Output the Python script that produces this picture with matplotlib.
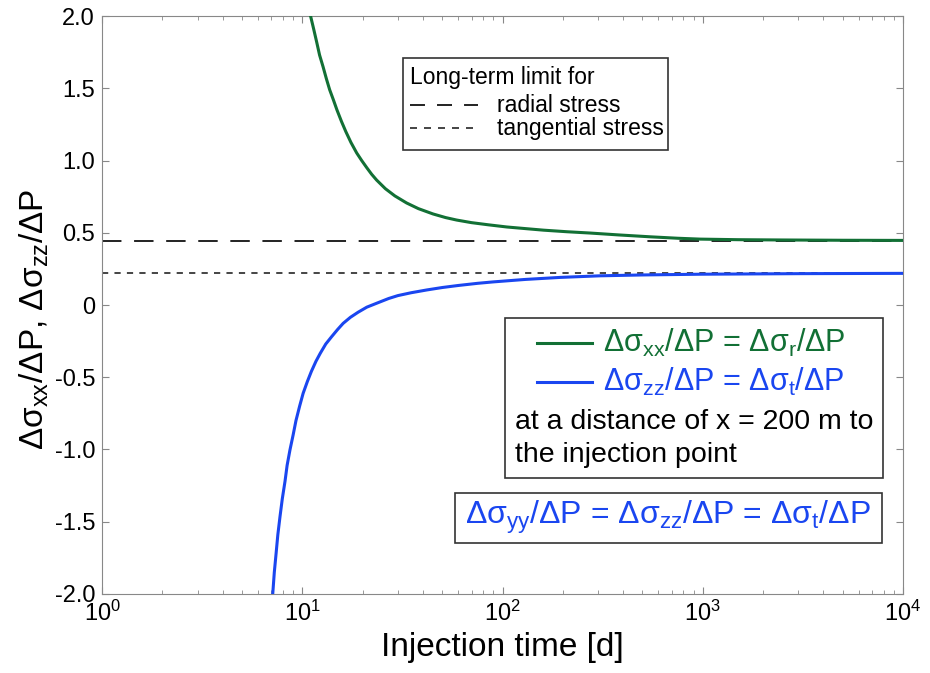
#!/usr/bin/env python

import matplotlib
matplotlib.use('Agg')

import matplotlib.pyplot as plt
from matplotlib.lines import Line2D
from matplotlib.patches import Rectangle

######   Data

# injection time [d] and normalised stress change at x = 200 m
tRadial = [11.0, 11.4, 11.8, 12.2, 12.7, 13.2, 13.7, 14.3, 14.9, 15.7, 16.5,
           17.5, 18.7, 19.8, 21.0, 22.2, 23.5, 26.0, 29.0, 33.2, 38.0, 45.0,
           52.0, 59.0, 70.0, 85.0, 105.0, 127.0, 160.0, 210.0, 274.0, 380.0,
           546.0, 750.0, 969.0, 1500.0, 2500.0, 5000.0, 10000.0]
sRadial = [2.0, 1.91, 1.82, 1.73, 1.649, 1.565, 1.49, 1.42, 1.35, 1.27, 1.2,
           1.125, 1.052, 1.0, 0.95, 0.905, 0.865, 0.805, 0.755, 0.706, 0.667, 0.63,
           0.605, 0.588, 0.57, 0.555, 0.54, 0.53, 0.518, 0.507, 0.498, 0.485,
           0.472, 0.462, 0.456, 0.452, 0.45, 0.448, 0.447]

tTangential = [7.12, 7.25, 7.4, 7.55, 7.74, 7.95, 8.2, 8.4, 8.68, 9.0, 9.3,
               9.7, 10.1, 10.6, 11.1, 11.7, 12.3, 13.1, 14.0, 15.0, 16.0, 17.4,
               19.0, 21.0, 23.5, 27.0, 30.0, 35.0, 41.8, 50.0, 60.0, 75.0, 90.0,
               130.0, 194.0, 306.0, 500.0, 969.0, 3050.0, 10000.0]
sTangential = [-2.0, -1.85, -1.72, -1.59, -1.465, -1.34, -1.22, -1.11, -1.003,
               -0.9, -0.8, -0.7, -0.611, -0.53, -0.46, -0.39, -0.334, -0.27, -0.22,
               -0.17, -0.127, -0.085, -0.05, -0.015, 0.012, 0.045, 0.065, 0.085,
               0.104, 0.121, 0.135, 0.15, 0.16, 0.177, 0.191, 0.202, 0.208, 0.213,
               0.217, 0.219]

limitRadial = 0.445
limitTangential = 0.222

yTicks = [2.0, 1.5, 1.0, 0.5, 0, -0.5, -1.0, -1.5, -2.0]
yTickLabels = ["2.0", "1.5", "1.0", "0.5", "0", "-0.5", "-1.0", "-1.5", "-2.0"]

############

green = '#127035'
blue = '#1a46f0'
frame = '#333333'

plt.rcParams['font.family'] = ['Liberation Sans', 'DejaVu Sans']
plt.rcParams['mathtext.fontset'] = 'custom'
plt.rcParams['mathtext.rm'] = 'Liberation Sans'
plt.rcParams['mathtext.default'] = 'regular'

fig = plt.figure(figsize=(9.3, 6.73), dpi=100)
ax = fig.add_axes([0.1097, 0.1174, 0.8613, 0.8588])

ax.axhline(limitRadial, color='#222222', lw=1.4, dashes=(10, 6.5), zorder=2)
ax.axhline(limitTangential, color='#444444', lw=1.4, dashes=(3.2, 3.2), zorder=2)
ax.plot(tRadial, sRadial, '-', color=green, lw=2.2, zorder=3)
ax.plot(tTangential, sTangential, '-', color=blue, lw=2.2, zorder=3)

ax.set_xscale('log')
ax.set_xlim(1, 1e4)
ax.set_ylim(-2, 2)
ax.set_yticks(yTicks)
ax.set_yticklabels(yTickLabels)

for s in ax.spines.values():
    s.set_color('#888888')
ax.tick_params(which='both', direction='in', top=True, right=True,
               color='#888888', labelsize=17, pad=5)
ax.tick_params(which='major', length=5)
ax.tick_params(which='minor', length=3)

ax.set_xlabel('Injection time [d]', fontsize=24, labelpad=4)
ax.set_ylabel(r'Δσ$_{xx}$/ΔP, Δσ$_{zz}$/ΔP', fontsize=24)
ax.yaxis.set_label_coords(-0.064, 0.476)

# box explaining the long-term limits
tr = ax.transAxes
ax.add_patch(Rectangle((0.376, 0.768), 0.331, 0.159, transform=tr,
                       facecolor='white', edgecolor=frame, lw=1.2, zorder=5))
ax.text(0.385, 0.894, 'Long-term limit for', transform=tr, fontsize=16.5,
        va='center', ha='left', zorder=6)
ax.add_line(Line2D([0.385, 0.469], [0.846, 0.846], transform=tr, color='#222222',
                   lw=1.4, dashes=(7.7, 6.2), zorder=6))
ax.text(0.493, 0.846, 'radial stress', transform=tr, fontsize=16.5,
        va='center', ha='left', zorder=6)
ax.add_line(Line2D([0.385, 0.469], [0.806, 0.806], transform=tr, color='#444444',
                   lw=1.4, dashes=(3.6, 3.6), zorder=6))
ax.text(0.493, 0.806, 'tangential stress', transform=tr, fontsize=16.5,
        va='center', ha='left', zorder=6)

# box with the two curves
ax.add_patch(Rectangle((0.503, 0.2007), 0.472, 0.2768, transform=tr,
                       facecolor='white', edgecolor=frame, lw=1.2, zorder=5))
ax.add_line(Line2D([0.543, 0.612], [0.434, 0.434], transform=tr, color=green,
                   lw=2.2, zorder=6))
ax.text(0.626, 0.434, r'Δσ$_{xx}$/ΔP = Δσ$_r$/ΔP', transform=tr, fontsize=22,
        color=green, va='center', ha='left', zorder=6)
ax.add_line(Line2D([0.543, 0.612], [0.367, 0.367], transform=tr, color=blue,
                   lw=2.2, zorder=6))
ax.text(0.626, 0.367, r'Δσ$_{zz}$/ΔP = Δσ$_t$/ΔP', transform=tr, fontsize=22,
        color=blue, va='center', ha='left', zorder=6)
ax.text(0.516, 0.298, 'at a distance of x = 200 m to', transform=tr, fontsize=20.5,
        va='center', ha='left', zorder=6)
ax.text(0.516, 0.240, 'the injection point', transform=tr, fontsize=20.5,
        va='center', ha='left', zorder=6)

# box noting the yy component
ax.add_patch(Rectangle((0.4407, 0.088), 0.533, 0.0865, transform=tr,
                       facecolor='white', edgecolor=frame, lw=1.2, zorder=5))
ax.text(0.7066, 0.133, r'Δσ$_{yy}$/ΔP = Δσ$_{zz}$/ΔP = Δσ$_t$/ΔP', transform=tr,
        fontsize=23, color=blue, va='center', ha='center', zorder=6)

fig.savefig('out.png', dpi=100)
